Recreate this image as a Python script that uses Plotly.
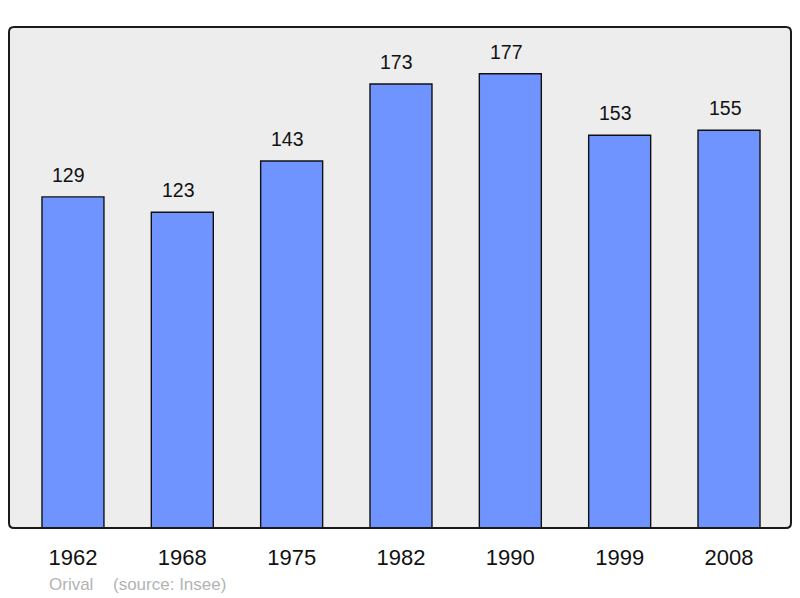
import plotly.graph_objects as go

years = ["1962", "1968", "1975", "1982", "1990", "1999", "2008"]
population = [129, 123, 143, 173, 177, 153, 155]
town = "Orival"
source = "(source: Insee)"

# page has an 8px body margin; work in figure coordinates
OFF = 8
W, H = 800 - OFF, 598 - OFF
L, R, T, B = 9 - OFF, 791 - OFF, 27 - OFF, 528 - OFF
xs = list(range(len(years)))

fig = go.Figure()
fig.add_trace(go.Bar(
    x=xs, y=population, width=0.567,
    marker=dict(color="#7094ff", line=dict(color="#111111", width=1.4)),
    hoverinfo="skip",
))

for x, v in zip(xs, population):
    fig.add_annotation(x=x, y=v, text=str(v), showarrow=False, yanchor="bottom",
                       yshift=9, xshift=-4, font=dict(size=19.5, color="#111111"))

def px2paper_x(p):
    return (p - OFF - L) / (R - L)

def px2paper_y(p):
    return (B - (p - OFF)) / (B - T)

fig.add_annotation(xref="paper", yref="paper", x=px2paper_x(47), y=px2paper_y(584),
                   text=town, showarrow=False, xanchor="left", yanchor="middle",
                   font=dict(size=17, color="#b3b3b3"))
fig.add_annotation(xref="paper", yref="paper", x=px2paper_x(111), y=px2paper_y(584),
                   text=source, showarrow=False, xanchor="left", yanchor="middle",
                   font=dict(size=17, color="#b3b3b3"))

# rounded border of plot area
r = 5
x0, x1, y0, y1 = 0, 1, 0, 1
rx = r / (R - L)
ry = r / (B - T)
path = (f"M {x0+rx},{y1} L {x1-rx},{y1} Q {x1},{y1} {x1},{y1-ry} "
        f"L {x1},{y0+ry} Q {x1},{y0} {x1-rx},{y0} L {x0+rx},{y0} "
        f"Q {x0},{y0} {x0},{y0+ry} L {x0},{y1-ry} Q {x0},{y1} {x0+rx},{y1} Z")
fig.add_shape(type="path", xref="paper", yref="paper", path=path,
              line=dict(color="#1a1a1a", width=2), layer="above")

fig.update_layout(
    width=W, height=H,
    margin=dict(l=L, r=W - R, t=T, b=H - B, pad=0),
    paper_bgcolor="white", plot_bgcolor="#ededed",
    font=dict(family="Liberation Sans, Arial, sans-serif"),
    showlegend=False,
    xaxis=dict(range=[-0.585, 6.567], tickvals=xs, ticktext=years,
               showgrid=False, zeroline=False, showline=False, ticks="",
               tickfont=dict(size=22, color="#111111"), ticklabelstandoff=14,
               fixedrange=True),
    yaxis=dict(range=[0, 195.2], showgrid=False, zeroline=False, showline=False,
               showticklabels=False, ticks="", fixedrange=True),
)

fig.write_html("out.html")
